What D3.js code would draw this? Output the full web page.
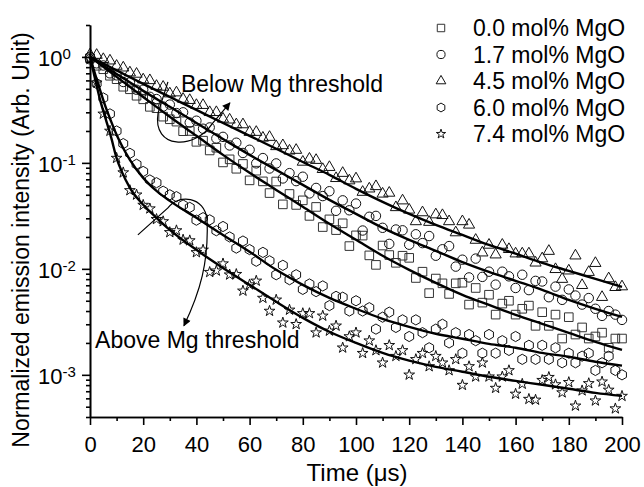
<!DOCTYPE html>
<html>
<head>
<meta charset="utf-8">
<script src="https://cdn.jsdelivr.net/npm/d3@7"></script>
<style>
  body { margin: 0; background: #fff; }
  text { font-family: "Liberation Sans", Arial, sans-serif; fill: #000; }
</style>
</head>
<body>
<svg id="chart" width="644" height="487"></svg>
<script>
// measured decay curves, time in microseconds
var times = [0,2.5,5,7.5,10,12.5,15,17.5,20,22.5,25,27.5,30,32.5,35,37.5,40,42.5,45,47.5,
    50,52.5,55,57.5,60,62.5,65,67.5,70,72.5,75,77.5,80,82.5,85,87.5,90,92.5,95,97.5,
    100,102.5,105,107.5,110,112.5,115,117.5,120,122.5,125,127.5,130,132.5,135,137.5,140,142.5,145,147.5,
    150,152.5,155,157.5,160,162.5,165,167.5,170,172.5,175,177.5,180,182.5,185,187.5,190,192.5,195,197.5,200];

var mgo00 = [.97,.825,.765,.664,.616,.523,.495,.43,.398,.338,.328,.273,.258,.245,.199,.20,.158,.162,.131,.139,
    .101,.108,.088,.0977,.0684,.0844,.0669,.0519,.0667,.0406,.0509,.0401,.0443,.0316,.0384,.0248,.0293,.0232,.0269,.0164,
    .0207,.0206,.0134,.0109,.0166,.0135,.0114,.0133,.0127,.0082,.0094,.0059,.0081,.0073,.0058,.0073,.0074,.0046,.0066,.0048,
    .0057,.0037,.0047,.0050,.0037,.0042,.0045,.0029,.0039,.0029,.0037,.0022,.0035,.0024,.0028,.0022,.0023,.0025,.0018,.0022,.0022];

var mgo17 = [.95,.87,.83,.70,.67,.58,.575,.49,.49,.42,.40,.34,.355,.295,.30,.24,.25,.21,.216,.17,
    .176,.146,.155,.124,.133,.099,.111,.0885,.0988,.0713,.080,.0673,.074,.0515,.058,.0486,.054,.0353,.0443,.0357,
    .0413,.023,.031,.0316,.0244,.0172,.0235,.0231,.0169,.0212,.0175,.0204,.0133,.0153,.0164,.0105,.0122,.0083,.0125,.0084,
    .0094,.0071,.0094,.0085,.0066,.0088,.0063,.0077,.0076,.0054,.0068,.0051,.0064,.0056,.0046,.0053,.0042,.0036,.0040,.0037,.0033];

var mgo45 = [1.05,1.04,.95,.92,.82,.79,.71,.69,.61,.60,.53,.52,.45,.46,.40,.39,.35,.35,.30,.30,
    .26,.255,.23,.23,.195,.195,.172,.175,.143,.146,.13,.132,.102,.109,.106,.087,.091,.0715,.080,.068,
    .071,.053,.057,.060,.051,.052,.038,.044,.036,.028,.034,.0276,.0325,.032,.028,.022,.028,.026,.0187,.0142,
    .0168,.0136,.0168,.0153,.0139,.0139,.0139,.0114,.0125,.0147,.0099,.008,.0096,.0133,.0070,.0093,.0113,.0054,.0081,.0067,.0068];

var mgo60 = [1.0,.56,.41,.29,.20,.152,.123,.097,.083,.069,.065,.054,.050,.048,.040,.038,.0288,.0304,.029,.0229,
    .0251,.020,.0157,.0183,.0152,.0118,.0143,.0119,.0088,.0108,.0079,.0088,.0064,.0072,.0061,.0069,.0045,.0055,.0054,.0040,
    .0050,.0040,.0043,.0027,.0035,.0039,.0028,.0033,.0023,.0033,.0025,.0018,.0027,.0030,.0020,.0025,.0016,.0024,.0021,.0016,
    .0024,.0016,.0021,.0017,.0023,.0014,.0019,.0014,.0019,.0014,.0018,.0013,.0016,.0013,.0015,.0016,.0011,.0013,.0015,.0011,.0010];

var mgo74 = [.95,.57,.29,.20,.111,.081,.055,.050,.040,.037,.0294,.028,.0221,.023,.0188,.0185,.0143,.0151,.0093,.0096,
    .0112,.0088,.0089,.0062,.0071,.0077,.0053,.0040,.0051,.0031,.0041,.0030,.0038,.0038,.0025,.0036,.0026,.0029,.0018,.0023,
    .0025,.0016,.0021,.0017,.0013,.0019,.0015,.0017,.0010,.0014,.0016,.0012,.0015,.0013,.0011,.0014,.0008,.0012,.00096,.0013,
    .00096,.00075,.00096,.0011,.00066,.00082,.00059,.00058,.00089,.00095,.00081,.00068,.00085,.00051,.00071,.00083,.00057,.00086,.00072,.00048,.00063];

// fitted curves
var fitTimes = [0,10,20,30,40,50,60,70,80,90,100,110,120,130,140,150,160,170,180,190,200];
var fit00 = [1,.648,.419,.272,.180,.119,.0805,.0556,.0385,.0266,.0188,.0133,.00979,.00738,.00569,.00457,.00368,.00303,.00249,.00205,.00172];
var fit17 = [1,.691,.478,.338,.238,.168,.119,.0859,.0620,.0448,.0330,.0244,.0188,.0148,.0116,.00937,.00771,.00634,.0051,.0042,.00352];
var fit45 = [1,.746,.556,.419,.316,.238,.180,.136,.102,.0771,.0569,.0429,.0330,.0260,.0209,.0168,.0139,.0114,.00957,.00805,.00676];

var fastTimes = [0,2,4,6,8,10,12,15,20,25,30,40,50,60,70,80,90,100,110,120,130,140,150,160,170,180,190,200];
var fit60 = [1,.676,.468,.330,.244,.184,.145,.107,.0722,.0544,.0438,.0303,.0209,.0145,.00979,.00706,.00532,.0042,.00338,.00284,.00244,.00219,.00196,.0018,.00161,.00148,.00133,.00122];
var fit74 = [1,.607,.376,.255,.172,.111,.0822,.0581,.0402,.0303,.0233,.0151,.0102,.00706,.00489,.00345,.00255,.002,.00161,.00136,.00119,.00107,.000958,.000877,.000805,.000738,.000676,.000633];

var seriesNames = ['0.0 mol% MgO', '1.7 mol% MgO', '4.5 mol% MgO', '6.0 mol% MgO', '7.4 mol% MgO'];
var xMajor = [0,20,40,60,80,100,120,140,160,180,200];
var xMinor = [10,30,50,70,90,110,130,150,170,190];
var yMajor = [1e-3, 1e-2, 1e-1, 1];
var yExponents = ['-3', '-2', '-1', '0'];

var width = 644, height = 487,
    margin = {top: 25, right: 22, bottom: 70, left: 90};

var svg = d3.select('#chart');
svg.append('rect').attr('width', width).attr('height', height).attr('fill', 'white');

var x = d3.scaleLinear().domain([0, 200]).range([margin.left, width - margin.right]);
var y = d3.scaleLog().domain([4e-4, 2]).range([height - margin.bottom, margin.top]);

// hexagon symbol, pointy top
var symbolHexagon = {
    draw: function(ctx, size) {
        var r = Math.sqrt(size / 2.598);
        for (var i = 0; i < 6; i++) {
            var a = Math.PI / 3 * i - Math.PI / 2;
            if (i === 0) ctx.moveTo(r * Math.cos(a), r * Math.sin(a));
            else ctx.lineTo(r * Math.cos(a), r * Math.sin(a));
        }
        ctx.closePath();
    }
};

var series = [
    {name: seriesNames[0], values: mgo00, fitT: fitTimes, fit: fit00, type: d3.symbolSquare, size: 74, color: '#333'},
    {name: seriesNames[1], values: mgo17, fitT: fitTimes, fit: fit17, type: d3.symbolCircle, size: 70, color: '#111'},
    {name: seriesNames[2], values: mgo45, fitT: fitTimes, fit: fit45, type: d3.symbolTriangle, size: 54, color: '#111'},
    {name: seriesNames[3], values: mgo60, fitT: fastTimes, fit: fit60, type: symbolHexagon, size: 68, color: '#111'},
    {name: seriesNames[4], values: mgo74, fitT: fastTimes, fit: fit74, type: d3.symbolStar, size: 36, color: '#111'}
];

// markers
var markers = svg.append('g').attr('class', 'markers');
series.forEach(function(s) {
    var sym = d3.symbol().type(s.type).size(s.size);
    markers.append('g').selectAll('path')
        .data(s.values)
        .enter().append('path')
        .attr('d', sym)
        .attr('transform', function(d, i) { return 'translate(' + x(times[i]) + ',' + y(d) + ')'; })
        .attr('fill', 'none')
        .attr('stroke', s.color)
        .attr('stroke-width', 1);
});

// fit lines
var line = d3.line().curve(d3.curveMonotoneX);
var fits = svg.append('g').attr('class', 'fits');
series.forEach(function(s) {
    fits.append('path')
        .attr('d', line(s.fit.map(function(v, i) { return [x(s.fitT[i]), y(v)]; })))
        .attr('fill', 'none')
        .attr('stroke', '#000')
        .attr('stroke-width', 2.4);
});

// axes
function styleAxis(g) {
    g.selectAll('path, line').attr('stroke', '#000').attr('stroke-width', 1.6);
    g.selectAll('text').style('font-size', '22px');
}
var axisY0 = height - margin.bottom;
svg.append('g')
    .attr('transform', 'translate(0,' + axisY0 + ')')
    .call(d3.axisBottom(x).tickValues(xMinor).tickSize(4).tickSizeOuter(0).tickFormat(''))
    .call(styleAxis);
svg.append('g')
    .attr('transform', 'translate(0,' + axisY0 + ')')
    .call(d3.axisBottom(x).tickValues(xMajor).tickSize(8).tickSizeOuter(0).tickPadding(11))
    .call(styleAxis);

var yMinor = y.ticks().filter(function(v) { return yMajor.indexOf(v) < 0; });
svg.append('g')
    .attr('transform', 'translate(' + margin.left + ',0)')
    .call(d3.axisLeft(y).tickValues(yMinor).tickSize(4).tickSizeOuter(0).tickFormat(''))
    .call(styleAxis);
svg.append('g')
    .attr('transform', 'translate(' + margin.left + ',0)')
    .call(d3.axisLeft(y).tickValues(yMajor).tickSize(8).tickSizeOuter(0).tickFormat(''))
    .call(styleAxis);

// y tick labels as 10^n
var yLabels = svg.append('g');
yMajor.forEach(function(v, i) {
    var t = yLabels.append('text')
        .attr('x', 38)
        .attr('y', y(v) + 9)
        .style('font-size', '22px');
    t.append('tspan').text('10');
    t.append('tspan').attr('dy', -7).style('font-size', '15px').text(yExponents[i]);
});

// axis titles
svg.append('text')
    .attr('transform', 'translate(29,240) rotate(-90)')
    .attr('text-anchor', 'middle')
    .style('font-size', '23px')
    .text('Normalized emission intensity (Arb. Unit)');
svg.append('text')
    .attr('x', 357)
    .attr('y', 481)
    .attr('text-anchor', 'middle')
    .style('font-size', '24px')
    .text('Time (\u03bcs)');

// legend
var legend = svg.append('g').attr('class', 'legend');
series.forEach(function(s, i) {
    var ly = 28 + i * 26.5;
    legend.append('path')
        .attr('d', d3.symbol().type(s.type).size(s.size * 0.75))
        .attr('transform', 'translate(441,' + ly + ')')
        .attr('fill', 'none')
        .attr('stroke', s.color)
        .attr('stroke-width', 1);
    legend.append('text')
        .attr('x', 473)
        .attr('y', ly + 8)
        .style('font-size', '23px')
        .text(s.name);
});

// annotations (anchored in data space)
svg.append('defs').append('marker')
    .attr('id', 'arrow')
    .attr('viewBox', '0 0 10 10')
    .attr('refX', 9).attr('refY', 5)
    .attr('markerWidth', 10).attr('markerHeight', 8)
    .attr('markerUnits', 'userSpaceOnUse')
    .attr('orient', 'auto')
    .append('path').attr('d', 'M0,0L10,5L0,10Z').attr('fill', '#000');

function pt(t, v) { return [x(t), y(v)]; }

var below = d3.path();
var b0 = pt(29.3, 0.581), b1 = pt(25.6, 0.296),
    b2 = pt(23.3, 0.133), b3 = pt(39.5, 0.133), b4 = pt(45.9, 0.233), b5 = pt(52.6, 0.368);
below.moveTo(b0[0], b0[1]);
below.lineTo(b1[0], b1[1]);
below.bezierCurveTo(b2[0], b2[1], b3[0], b3[1], b4[0], b4[1]);
below.lineTo(b5[0], b5[1]);

var above = d3.path();
var a0 = pt(18.0, 0.0209), a1 = pt(29.3, 0.0376),
    a2 = pt(33.1, 0.0510), a3 = pt(43.2, 0.0489), a4 = pt(44.0, 0.0290),
    a5 = pt(44.7, 0.01164), a6 = pt(41.4, 0.00607), a7 = pt(35.3, 0.0029);
above.moveTo(a0[0], a0[1]);
above.lineTo(a1[0], a1[1]);
above.bezierCurveTo(a2[0], a2[1], a3[0], a3[1], a4[0], a4[1]);
above.bezierCurveTo(a5[0], a5[1], a6[0], a6[1], a7[0], a7[1]);

[below, above].forEach(function(p) {
    svg.append('path')
        .attr('d', p.toString())
        .attr('fill', 'none')
        .attr('stroke', '#000')
        .attr('stroke-width', 1.2)
        .attr('marker-end', 'url(#arrow)');
});

svg.append('text')
    .attr('x', x(34.2)).attr('y', y(0.468))
    .style('font-size', '23px')
    .text('Below Mg threshold');
svg.append('text')
    .attr('x', x(1.9)).attr('y', y(0.0018))
    .style('font-size', '23px')
    .text('Above Mg threshold');
</script>
</body>
</html>
